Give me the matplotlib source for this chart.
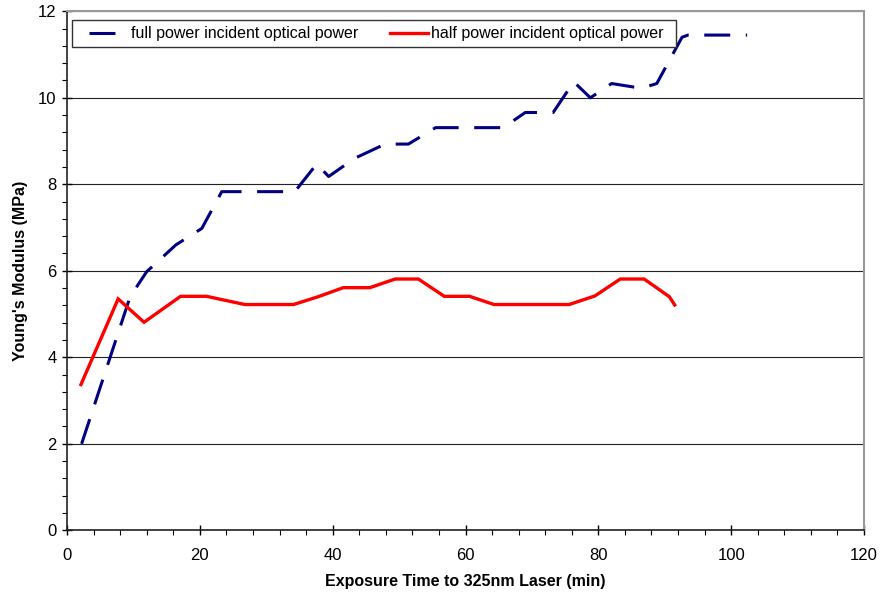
import matplotlib
matplotlib.use("Agg")
import matplotlib.pyplot as plt
from matplotlib.patches import Rectangle
from matplotlib.ticker import MultipleLocator

plt.rcParams['font.family'] = ['Liberation Sans', 'DejaVu Sans']

# full power exposure series
full_t = [2.2, 9.5, 12.0, 16.4, 20.3, 23.3, 34.3, 37.6, 39.4, 43.3, 47.9, 51.4,
          55.5, 65.7, 69.0, 73.2, 76.3, 78.8, 82.0, 86.5, 88.8, 92.6, 93.5, 102.4]
full_E = [2.0, 5.4, 5.98, 6.6, 6.98, 7.83, 7.83, 8.47, 8.18, 8.6, 8.93, 8.93,
          9.31, 9.31, 9.66, 9.66, 10.37, 10.0, 10.33, 10.22, 10.33, 11.4, 11.45, 11.45]

# half power exposure series
half_t = [2.1, 7.7, 11.6, 17.1, 21.0, 26.8, 34.1, 37.8, 41.6, 45.6, 49.4, 52.9,
          56.8, 60.6, 64.3, 75.6, 79.5, 83.3, 86.9, 90.7, 91.5]
half_E = [3.37, 5.35, 4.81, 5.41, 5.41, 5.22, 5.22, 5.40, 5.61, 5.61, 5.81, 5.81,
          5.41, 5.41, 5.22, 5.22, 5.42, 5.81, 5.81, 5.40, 5.21]

fig = plt.figure(figsize=(8.8, 5.94), dpi=100)
ax = fig.add_axes([67/880, 1 - 530.3/594, 797/880, 519/594])

ax.plot(full_t, full_E, color='#000080', lw=2.2, linestyle=(0, (8.5, 5.1)),
        dash_capstyle='butt', label='full power incident optical power')
ax.plot(half_t, half_E, color='#ff0000', lw=2.4, solid_joinstyle='miter',
        label='half power incident optical power')

ax.set_xlim(0, 120)
ax.set_ylim(0, 12)
ax.xaxis.set_major_locator(MultipleLocator(20))
ax.xaxis.set_minor_locator(MultipleLocator(4))
ax.yaxis.set_major_locator(MultipleLocator(2))
ax.yaxis.set_minor_locator(MultipleLocator(0.4))
ax.tick_params(which='major', direction='inout', length=7, width=1, labelsize=12)
ax.tick_params(which='minor', direction='out', length=3.5, width=0.8)
ax.tick_params(axis='x', which='major', pad=9)
ax.tick_params(axis='y', which='major', pad=4)

ax.yaxis.grid(True, which='major', color='#222222', lw=0.8)
ax.set_axisbelow(True)

for s in ('left', 'bottom'):
    ax.spines[s].set_color('#222222')
    ax.spines[s].set_linewidth(1.2)
for s in ('top', 'right'):
    ax.spines[s].set_color('#999999')
    ax.spines[s].set_linewidth(1.5)

ax.set_xlabel('Exposure Time to 325nm Laser (min)', fontsize=11.5, fontweight='bold', labelpad=8)
ax.set_ylabel("Young's Modulus (MPa)", fontsize=11.5, fontweight='bold', labelpad=7)

# legend box drawn separately so the entries sit inset from its border
ax.add_patch(Rectangle((0.0063, 0.9312), 0.7578, 0.0521, transform=ax.transAxes,
                       facecolor='white', edgecolor='#333333', lw=1.0, zorder=4))
leg = ax.legend(loc='center left', bbox_to_anchor=(0.0276, 0.957), ncol=2, fontsize=11.5,
                frameon=False, handlelength=2.4, handletextpad=0.2, columnspacing=2.0,
                borderpad=0, borderaxespad=0)
leg.set_zorder(5)

fig.savefig('out.png', dpi=100)
